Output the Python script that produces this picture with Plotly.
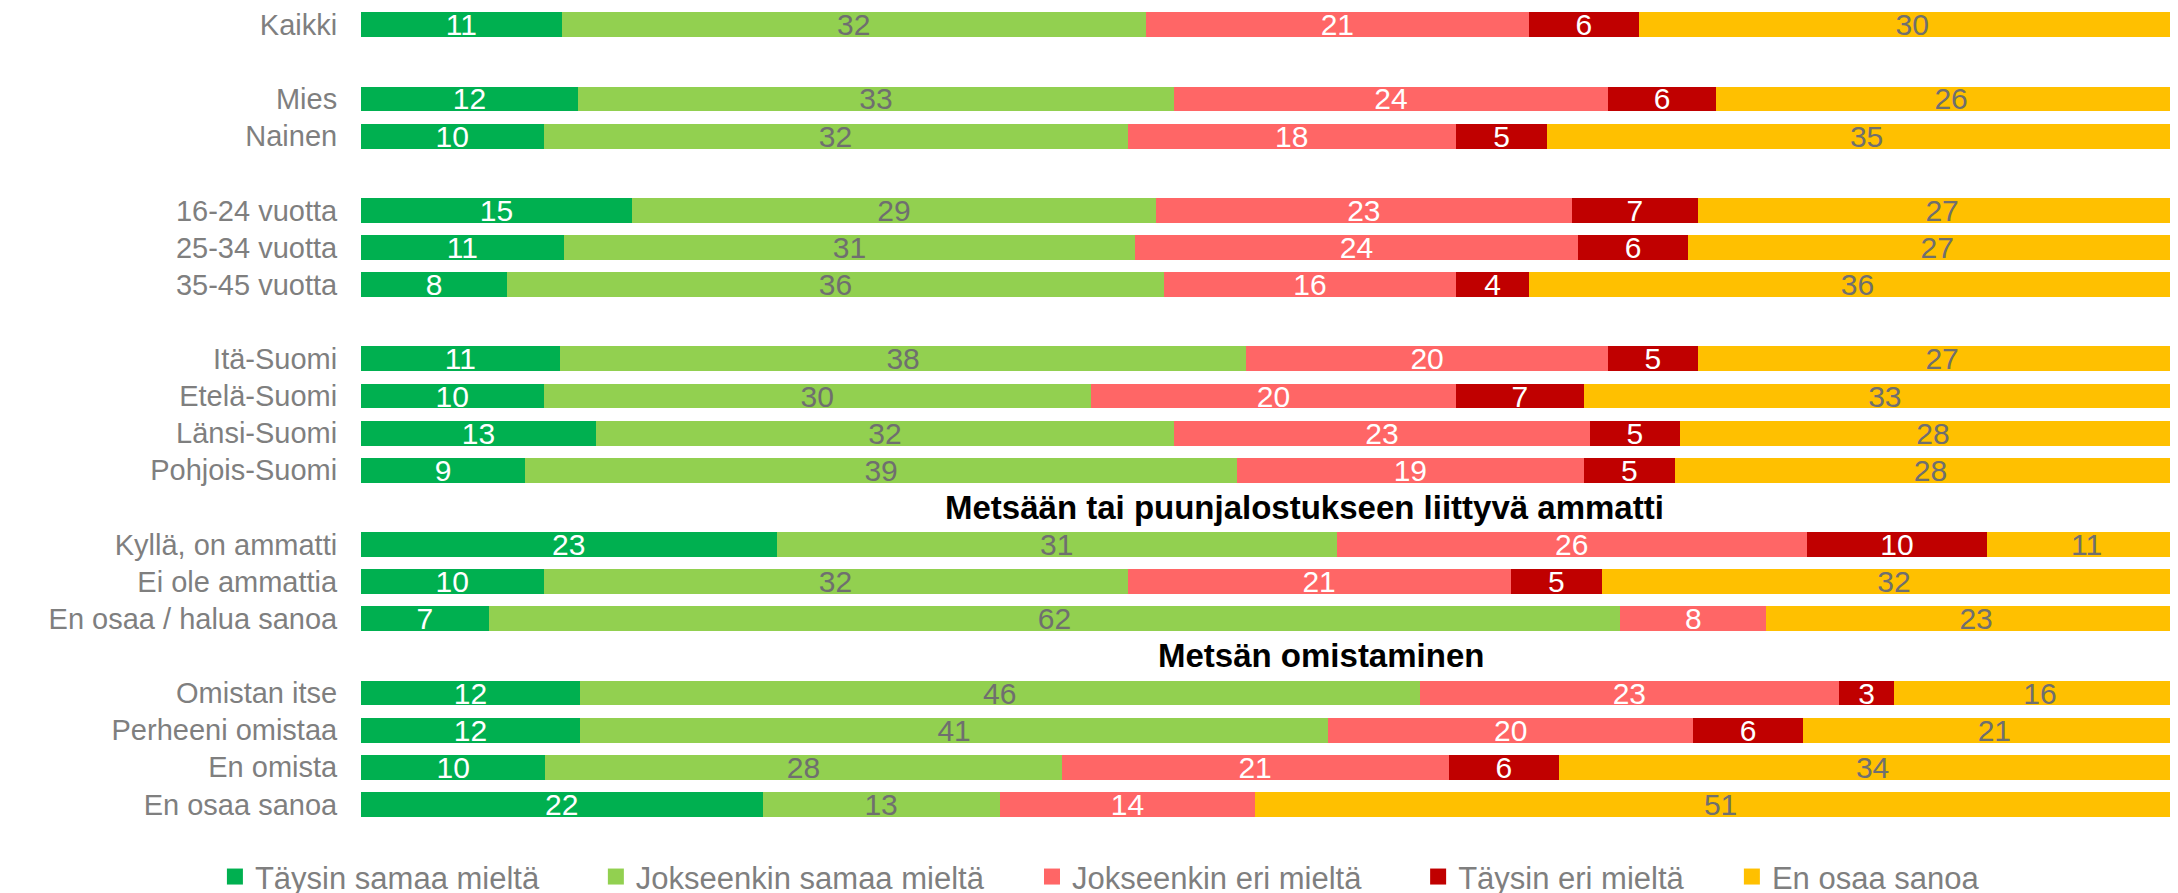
import plotly.graph_objects as go

# row labels, y slots (gaps leave room for the section headers)
rows = ["Kaikki", "Mies", "Nainen", "16-24 vuotta", "25-34 vuotta", "35-45 vuotta",
        "Itä-Suomi", "Etelä-Suomi", "Länsi-Suomi", "Pohjois-Suomi",
        "Kyllä, on ammatti", "Ei ole ammattia", "En osaa / halua sanoa",
        "Omistan itse", "Perheeni omistaa", "En omista", "En osaa sanoa"]
slots = [0, 2, 3, 5, 6, 7, 9, 10, 11, 12, 14, 15, 16, 18, 19, 20, 21]

series = ["Täysin samaa mieltä", "Jokseenkin samaa mieltä", "Jokseenkin eri mieltä",
          "Täysin eri mieltä", "En osaa sanoa"]

taysin_samaa = [11, 12, 10, 15, 11, 8, 11, 10, 13, 9, 23, 10, 7, 12, 12, 10, 22]
jokseenkin_samaa = [32, 33, 32, 29, 31, 36, 38, 30, 32, 39, 31, 32, 62, 46, 41, 28, 13]
jokseenkin_eri = [21, 24, 18, 23, 24, 16, 20, 20, 23, 19, 26, 21, 8, 23, 20, 21, 14]
taysin_eri = [6, 6, 5, 7, 6, 4, 5, 7, 5, 5, 10, 5, None, 3, 6, 6, None]
en_osaa = [30, 26, 35, 27, 27, 36, 27, 33, 28, 28, 11, 32, 23, 16, 21, 34, 51]

headers = ["Metsään tai puunjalostukseen liittyvä ammatti", "Metsän omistaminen"]
header_slots = [13, 17]

values = [taysin_samaa, jokseenkin_samaa, jokseenkin_eri, taysin_eri, en_osaa]
colors = ["#00B050", "#92D050", "#FF6666", "#C00000", "#FFC000"]
text_colors = ["white", "#6F6F6F", "white", "white", "#6F6F6F"]
legend_pad = [6, 5, 6, 5, 0]  # trailing nbsp to spread legend entries

FONT = "Liberation Sans, Arial, sans-serif"
GREY = "#7F7F7F"

fig = go.Figure()
for name, vals, col, tcol, pad in zip(series, values, colors, text_colors, legend_pad):
    fig.add_trace(go.Bar(
        y=slots, x=vals, orientation="h", name=name,
        marker=dict(color=col, line=dict(width=0)),
        text=[("" if v is None else str(v)) for v in vals],
        textposition="inside", insidetextanchor="middle", textangle=0,
        constraintext="none",
        textfont=dict(family=FONT, size=30, color=tcol),
        showlegend=False, hoverinfo="x+y",
    ))
    # legend entry with a bigger square swatch
    fig.add_trace(go.Scatter(
        x=[None], y=[None], mode="markers", name=name + "\u00a0" * pad,
        marker=dict(symbol="square", size=16, color=col),
        showlegend=True,
    ))

for h, s, xp in zip(headers, header_slots, [0.517, 0.526]):
    fig.add_annotation(text="<b>" + h + "</b>", x=xp, xref="paper", y=s, yref="y",
                       showarrow=False, xanchor="center", yanchor="middle",
                       font=dict(family=FONT, size=33, color="black"))

# page body adds an 8px offset, margins compensate for it
fig.update_layout(
    barmode="stack", barnorm="percent", bargap=0.33,
    width=2178, height=893,
    margin=dict(l=353, r=0, t=0, b=78, autoexpand=False),
    paper_bgcolor="white", plot_bgcolor="white",
    font=dict(family=FONT, color=GREY),
    legend=dict(orientation="h", traceorder="normal",
                xref="container", yref="container",
                x=0.095, xanchor="left", y=0.027, yanchor="middle",
                font=dict(family=FONT, size=31, color=GREY),
                itemclick=False, bgcolor="rgba(0,0,0,0)"),
)
fig.update_xaxes(range=[0, 100], visible=False, fixedrange=True, automargin=False)
fig.update_yaxes(range=[21.5, -0.45], tickmode="array", tickvals=slots, ticktext=rows,
                 showgrid=False, zeroline=False, showline=False, automargin=False,
                 ticks="outside", ticklen=17, tickcolor="rgba(0,0,0,0)",
                 tickfont=dict(family=FONT, size=29, color=GREY), fixedrange=True)

fig.write_html("out.html")
